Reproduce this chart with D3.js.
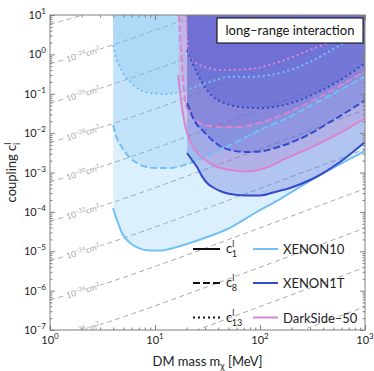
<!DOCTYPE html>
<html>
<head>
<meta charset="utf-8">
<script src="https://cdn.jsdelivr.net/npm/d3@7"></script>
<style>
  body { margin: 0; background: #fff; }
  svg { font-family: Lato, "DejaVu Sans", sans-serif; }
</style>
</head>
<body>
<svg id="chart"></svg>
<script>
// limits: [DM mass in MeV, coupling]
const xenon10C1 = [[4.0,1.25e-4],[4.16,8.5e-5],[4.44,5.3e-5],[4.85,2.9e-5],[5.41,1.93e-5],[6.17,1.44e-5],[7.2,1.17e-5],[8.96,1.04e-5],[11.2,1.04e-5],[15.5,1.25e-5],[21.5,1.62e-5],[33.4,2.44e-5],[51.8,3.9e-5],[64.5,5.5e-5],[80.3,7.85e-5],[155,2.12e-4],[299,6.1e-4],[578,1.64e-3],[1000,3.5e-3]];
const xenon10C8 = [[4.0,0.0161],[4.25,0.00845],[4.64,0.00529],[5.18,0.00332],[5.78,0.00234],[6.74,0.00174],[8.03,0.00142],[10,0.0013],[13.9,0.0013],[20.2,0.00164],[29.9,0.00248],[41.6,0.00373],[64.5,0.00669],[100,0.012],[181,0.0242],[299,0.049],[578,0.124],[1000,0.28]];
const xenon10C13 = [[4.0,1.73],[4.25,0.81],[4.64,0.48],[5.18,0.28],[5.78,0.2],[6.74,0.14],[8.03,0.111],[10,0.101],[12.4,0.0985],[17.3,0.111],[26.8,0.167],[37.3,0.22],[51.8,0.27],[80.3,0.27],[124,0.30],[193,0.40],[299,0.64],[541,1.54],[1000,4.16]];

const xenon1tC1 = [[20.2,0.00313],[22.5,0.00208],[25.1,0.00138],[28.0,8.1e-4],[31.3,5.41e-4],[36.5,4.04e-4],[41.6,3.39e-4],[51.8,2.84e-4],[71.9,2.61e-4],[100,2.61e-4],[139,3.2e-4],[193,4.04e-4],[299,6.45e-4],[398,9.7e-4],[578,1.85e-3],[1000,5.96e-3]];
const xenon1tC8 = [[20.2,0.058],[21.5,0.0386],[23.0,0.0242],[25.7,0.0152],[29.3,0.0107],[34.9,0.00669],[41.6,0.00471],[51.8,0.00373],[71.9,0.00332],[100,0.00341],[139,0.00419],[193,0.00561],[299,0.0095],[464,0.0192],[720,0.0386],[1000,0.069]];
const xenon1tC13 = [[20.2,1.29],[22.5,0.64],[25.1,0.34],[29.9,0.148],[34.9,0.088],[41.6,0.065],[51.8,0.052],[71.9,0.0448],[100,0.0435],[155,0.049],[240,0.069],[373,0.117],[578,0.22],[1000,0.60]];

const darkSideC1 = [[16.6,0.30],[17.3,0.111],[18.1,0.0435],[18.9,0.0216],[19.7,0.0127],[20.6,0.00845],[22.5,0.00499],[25.1,0.00313],[29.9,0.00208],[37.3,0.00146],[51.8,0.00116],[80.3,0.00106],[112,0.0013],[181,0.00234],[299,0.00419],[578,0.0101],[1000,0.0242]];
const darkSideC8 = [[16.9,10],[17.7,1.29],[18.5,0.22],[19.3,0.069],[20.6,0.0386],[22.5,0.0257],[25.7,0.0192],[29.9,0.0161],[41.6,0.0143],[64.5,0.0143],[100,0.0181],[181,0.0324],[373,0.083],[645,0.19],[1000,0.38]];
const darkSideC13 = [[19.7,10],[20.2,3.1],[20.6,1.29],[21.9,0.81],[24.6,0.60],[29.9,0.48],[41.6,0.40],[80.3,0.43],[124,0.537],[193,0.81],[299,1.29],[530,2.32],[1000,4.68]];

// iso cross-section guides
const isoSigmaExp = [-22, -24, -26, -28, -30, -32, -34, -36, -38, -40, -42];
const isoLabelExp = [-24, -26, -28, -30, -32, -34, -36, -38];
const electronMass = 0.511;
const isoCouplingAt1MeV = 0.59; // coupling of the 1e-24 cm^2 line at 1 MeV

const xTicks = [1, 10, 100, 1000];
const yTicks = [1e-7, 1e-6, 1e-5, 1e-4, 1e-3, 1e-2, 1e-1, 1, 10];

const operators = ["1", "8", "13"];
const experimentNames = ["XENON10", "XENON1T", "DarkSide–50"];

const width = 374;
const height = 371;

const colors = {
  "XENON10": "#74c0f4",
  "XENON1T": "#3549cc",
  "DarkSide–50": "#d886d0"
};
const dashes = [null, "7,3", "2,3"];

const svg = d3.select("#chart")
    .attr("width", width)
    .attr("height", height);

const x = d3.scaleLog().domain([1, 1000]).range([50, 365]);
const y = d3.scaleLog().domain([1e-7, 10]).range([330, 15]);

svg.append("defs").append("clipPath").attr("id", "plotArea")
  .append("rect")
    .attr("x", 50).attr("y", 15)
    .attr("width", 315).attr("height", 315);

const plot = svg.append("g").attr("clip-path", "url(#plotArea)");

function isoCoupling(m, exp) {
  return isoCouplingAt1MeV * (m + electronMass) / (1 + electronMass) * Math.pow(10, (exp + 24) / 2);
}

// gray iso lines
const massGrid = d3.range(0, 3.001, 0.05).map(e => Math.pow(10, e));
const isoLine = d3.line().x(d => x(d[0])).y(d => y(d[1]));
isoSigmaExp.forEach(e => {
  plot.append("path")
    .attr("d", isoLine(massGrid.map(m => [m, isoCoupling(m, e)])))
    .attr("fill", "none")
    .attr("stroke", "#a9a9a9")
    .attr("stroke-width", 1)
    .attr("stroke-dasharray", "5,3.5");
});

isoLabelExp.forEach(e => {
  const m = x.invert(83);
  const px = x(m), py = y(isoCoupling(m, e));
  const dy = y(isoCoupling(x.invert(91), e)) - y(isoCoupling(x.invert(75), e));
  const ang = Math.atan2(dy, 16) * 180 / Math.PI;
  const g = plot.append("g").attr("transform", `translate(${px},${py}) rotate(${ang})`);
  g.append("rect")
    .attr("x", -18).attr("y", -5).attr("width", 36).attr("height", 10)
    .attr("fill", "#fff");
  const t = g.append("text")
    .attr("text-anchor", "middle")
    .attr("y", 3)
    .attr("font-size", 8.5)
    .attr("fill", "#a9a9a9");
  t.append("tspan").text("10");
  t.append("tspan").attr("dy", -3).attr("font-size", 6).text("−" + (-e));
  t.append("tspan").attr("dy", 3).text("cm");
  t.append("tspan").attr("dy", -3).attr("font-size", 6).text("2");
});

// exclusion regions
const experiments = [
  { name: "XENON10", curves: [xenon10C1, xenon10C8, xenon10C13] },
  { name: "DarkSide–50", curves: [darkSideC1, darkSideC8, darkSideC13] },
  { name: "XENON1T", curves: [xenon1tC1, xenon1tC8, xenon1tC13] }
];

const area = d3.area()
    .x(d => x(d[0]))
    .y0(y(10))
    .y1(d => y(d[1]))
    .curve(d3.curveMonotoneX);
const line = d3.line()
    .x(d => x(d[0]))
    .y(d => y(d[1]))
    .curve(d3.curveMonotoneX);

experiments.forEach(exp => {
  exp.curves.forEach(c => {
    plot.append("path")
      .attr("d", area(c))
      .attr("fill", colors[exp.name])
      .attr("fill-opacity", 0.25);
  });
});

experiments.forEach(exp => {
  exp.curves.forEach((c, i) => {
    plot.append("path")
      .attr("d", line(c))
      .attr("fill", "none")
      .attr("stroke", colors[exp.name])
      .attr("stroke-width", 2)
      .attr("stroke-dasharray", dashes[i]);
  });
});

// frame and ticks
const axisColor = "#808080";
function minorTicks(lo, hi) {
  const out = [];
  for (let k = lo; k < hi; k++) {
    for (let d = 2; d <= 9; d++) out.push(d * Math.pow(10, k));
  }
  return out;
}
const xMinor = minorTicks(0, 3);
const yMinor = minorTicks(-7, 1);

function drawAxis(gen, values, size, transform) {
  const g = svg.append("g")
    .attr("transform", transform)
    .call(gen.tickValues(values).tickSize(size).tickSizeOuter(0).tickFormat(""));
  g.select(".domain").remove();
  g.selectAll("line").attr("stroke", axisColor);
}
drawAxis(d3.axisBottom(x), xTicks, -5, "translate(0,330)");
drawAxis(d3.axisBottom(x), xMinor, -2.5, "translate(0,330)");
drawAxis(d3.axisTop(x), xTicks, -5, "translate(0,15)");
drawAxis(d3.axisTop(x), xMinor, -2.5, "translate(0,15)");
drawAxis(d3.axisLeft(y), yTicks, -5, "translate(50,0)");
drawAxis(d3.axisLeft(y), yMinor, -2.5, "translate(50,0)");
drawAxis(d3.axisRight(y), yTicks, -5, "translate(365,0)");
drawAxis(d3.axisRight(y), yMinor, -2.5, "translate(365,0)");

svg.append("rect")
  .attr("x", 50).attr("y", 15)
  .attr("width", 315).attr("height", 315)
  .attr("fill", "none")
  .attr("stroke", axisColor)
  .attr("stroke-width", 1);

function powerText(t, v) {
  const e = Math.round(Math.log10(v));
  t.append("tspan").text("10");
  t.append("tspan").attr("dy", -5).attr("font-size", 8).text(e < 0 ? "−" + (-e) : e);
}

xTicks.forEach(v => {
  const t = svg.append("text")
    .attr("x", x(v)).attr("y", 343.5)
    .attr("text-anchor", "middle")
    .attr("font-size", 11)
    .attr("fill", "#222");
  powerText(t, v);
});
yTicks.forEach(v => {
  const t = svg.append("text")
    .attr("x", 46).attr("y", y(v) + 4)
    .attr("text-anchor", "end")
    .attr("font-size", 11)
    .attr("fill", "#222");
  powerText(t, v);
});

// axis titles
const xt = svg.append("text")
  .attr("x", 207.5).attr("y", 366)
  .attr("text-anchor", "middle")
  .attr("font-size", 13)
  .attr("fill", "#222");
xt.append("tspan").text("DM mass m");
xt.append("tspan").attr("dy", 3).attr("font-size", 9).text("χ");
xt.append("tspan").attr("dy", -3).text(" [MeV]");

const yt = svg.append("text")
  .attr("transform", "translate(16,172.5) rotate(-90)")
  .attr("text-anchor", "middle")
  .attr("font-size", 13)
  .attr("fill", "#222");
yt.append("tspan").text("coupling c");
yt.append("tspan").attr("dy", -5).attr("font-size", 9).text("l");
yt.append("tspan").attr("dx", -2.5).attr("dy", 8.5).attr("font-size", 9).text("i");

// title box
svg.append("rect")
  .attr("x", 217).attr("y", 18)
  .attr("width", 146).attr("height", 25)
  .attr("fill", "#fff")
  .attr("stroke", "#000")
  .attr("stroke-width", 1);
svg.append("text")
  .attr("x", 290).attr("y", 35)
  .attr("text-anchor", "middle")
  .attr("font-size", 13)
  .attr("fill", "#111")
  .text("long–range interaction");

// legend
const legendY = [249, 283, 317.5];
operators.forEach((op, i) => {
  svg.append("line")
    .attr("x1", 193).attr("x2", 220)
    .attr("y1", legendY[i]).attr("y2", legendY[i])
    .attr("stroke", "#111")
    .attr("stroke-width", 2)
    .attr("stroke-dasharray", dashes[i]);
  const t = svg.append("text")
    .attr("x", 226).attr("y", legendY[i] + 4)
    .attr("font-size", 13)
    .attr("fill", "#222");
  t.append("tspan").text("c");
  t.append("tspan").attr("dy", -6).attr("font-size", 9).text("l");
  t.append("tspan").attr("dx", -2.5).attr("dy", 10).attr("font-size", 9).text(op);
});

experimentNames.forEach((name, i) => {
  svg.append("line")
    .attr("x1", 253).attr("x2", 278)
    .attr("y1", legendY[i]).attr("y2", legendY[i])
    .attr("stroke", colors[name])
    .attr("stroke-width", 2);
  svg.append("text")
    .attr("x", 283).attr("y", legendY[i] + 5)
    .attr("font-size", 13)
    .attr("fill", "#222")
    .text(name);
});
</script>
</body>
</html>
